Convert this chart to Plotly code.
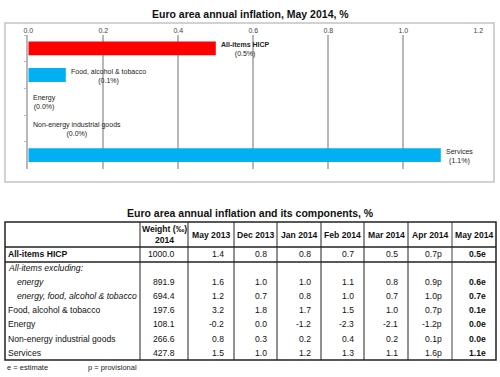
import plotly.graph_objects as go

# ---------- data ----------
bar_categories = ["All-items HICP", "Food, alcohol & tobacco", "Energy",
                  "Non-energy industrial goods", "Services"]
bar_values = [0.5, 0.1, 0.0, 0.0, 1.1]

table_header = ["", "Weight (‰)<br>2014", "May 2013", "Dec 2013", "Jan 2014",
                "Feb 2014", "Mar 2014", "Apr 2014", "May 2014"]
row_labels = ["All-items HICP", "All-items excluding:", "energy",
              "energy, food, alcohol & tobacco", "Food, alcohol & tobacco",
              "Energy", "Non-energy industrial goods", "Services"]
weights = ["1000.0", "", "891.9", "694.4", "197.6", "108.1", "266.6", "427.8"]
may13 = ["1.4", "", "1.6", "1.2", "3.2", "-0.2", "0.8", "1.5"]
dec13 = ["0.8", "", "1.0", "0.7", "1.8", "0.0", "0.3", "1.0"]
jan14 = ["0.8", "", "1.0", "0.8", "1.7", "-1.2", "0.2", "1.2"]
feb14 = ["0.7", "", "1.1", "1.0", "1.5", "-2.3", "0.4", "1.3"]
mar14 = ["0.5", "", "0.8", "0.7", "1.0", "-2.1", "0.2", "1.1"]
apr14 = ["0.7p", "", "0.9p", "1.0p", "0.7p", "-1.2p", "0.1p", "1.6p"]
may14 = ["0.5e", "", "0.6e", "0.7e", "0.1e", "0.0e", "0.0e", "1.1e"]

# ---------- styling ----------
W, H = 500, 377
FONT = "Liberation Sans, Arial, sans-serif"
bar_colors = ["#ff0000", "#00b0f0", "#00b0f0", "#00b0f0", "#00b0f0"]
row_style = ["bold", "italic", "italic_indent", "italic_indent",
             "plain", "plain", "plain", "plain"]


def px(x):
    return x / W


def py(y):
    return 1 - y / H


fig = go.Figure()

# ---------- bar chart ----------
fig.add_trace(go.Bar(
    x=bar_values, y=bar_categories, orientation="h",
    marker=dict(color=bar_colors, line=dict(width=0)),
    width=0.52, hoverinfo="skip", showlegend=False,
))

for i, (cat, val) in enumerate(zip(bar_categories, bar_values)):
    head = f"<b>{cat}</b>" if i == 0 else cat
    fig.add_annotation(x=val, y=cat, xref="x", yref="y",
                       text=f"{head}<br>({val:.1f}%)",
                       showarrow=False, xanchor="left", yanchor="middle",
                       xshift=3, yshift=-1, align="center",
                       font=dict(family=FONT, size=7, color="#222222"))

fig.update_layout(
    xaxis=dict(domain=[px(28.3), px(478.3)], range=[0, 1.2], dtick=0.2,
               tickformat=".1f", side="top", showgrid=True,
               gridcolor="#b8b8b8", gridwidth=1.5, zeroline=False,
               showline=False, ticks="", anchor="y", automargin=False,
               tickfont=dict(family=FONT, size=7, color="#444444")),
    yaxis=dict(domain=[py(168.5), py(35)], autorange="reversed",
               type="category", showticklabels=False, showgrid=False,
               ticks="outside", tickson="boundaries", ticklen=3,
               tickcolor="#b8b8b8", showline=True, linecolor="#b8b8b8",
               linewidth=1.5, zeroline=False, anchor="x", automargin=False),
)

# ---------- table (text cells + rules) ----------
col_edges = [5, 140, 188, 234, 277, 321, 364, 408, 452, 496]
t_top, t_head, t_hicp, t_bot = 222, 247, 262, 360
row_centers = [254.5] + [267.5 + 14.2 * k for k in range(7)]
TFS = 8.6

columns = [weights, may13, dec13, jan14, feb14, mar14, apr14, may14]

# header
for j, h in enumerate(table_header):
    if not h:
        continue
    xc = (col_edges[j] + col_edges[j + 1]) / 2
    fig.add_annotation(text=f"<b>{h}</b>", x=px(xc), y=py((t_top + t_head) / 2),
                       xref="paper", yref="paper", showarrow=False,
                       xanchor="center", yanchor="middle", align="center",
                       font=dict(family=FONT, size=TFS, color="#111111"))

# row labels
for i, lab in enumerate(row_labels):
    st = row_style[i]
    txt = lab
    indent = 0
    if st == "bold":
        txt = f"<b>{lab}</b>"
    elif st.startswith("italic"):
        txt = f"<i>{lab}</i>"
        if st == "italic_indent":
            indent = 9
    fig.add_annotation(text=txt, x=px(col_edges[0] + 1 + indent), y=py(row_centers[i]),
                       xref="paper", yref="paper", showarrow=False,
                       xanchor="left", yanchor="middle",
                       font=dict(family=FONT, size=TFS, color="#111111"))

# numeric cells
for j, col in enumerate(columns, start=1):
    right = col_edges[j + 1] - (11 if j == 1 else 8.5)
    for i, v in enumerate(col):
        if not v:
            continue
        txt = f"<b>{v}</b>" if j == len(columns) else v
        fig.add_annotation(text=txt, x=px(right), y=py(row_centers[i]),
                           xref="paper", yref="paper", showarrow=False,
                           xanchor="right", yanchor="middle",
                           font=dict(family=FONT, size=TFS, color="#111111"))

shapes = []
for k in range(1, len(col_edges) - 1):
    last = (k == len(col_edges) - 2)
    shapes.append(dict(type="line", xref="paper", yref="paper",
                       x0=px(col_edges[k]), x1=px(col_edges[k]),
                       y0=py(t_top), y1=py(t_bot),
                       line=dict(color="#a0a0a0" if last else "#222222",
                                 width=2 if last else 1)))
for yy in (t_head, t_hicp):
    shapes.append(dict(type="line", xref="paper", yref="paper",
                       x0=px(col_edges[0]), x1=px(col_edges[-1]),
                       y0=py(yy), y1=py(yy),
                       line=dict(color="#222222", width=1.5)))
shapes.append(dict(type="rect", xref="paper", yref="paper",
                   x0=px(col_edges[0]), x1=px(col_edges[-1]),
                   y0=py(t_bot), y1=py(t_top),
                   line=dict(color="#222222", width=1.5)))
# chart border
shapes.append(dict(type="rect", xref="paper", yref="paper",
                   x0=px(5), x1=px(494), y0=py(182), y1=py(23),
                   line=dict(color="#c4c4c4", width=1.5), layer="below"))
fig.update_layout(shapes=shapes)

# titles & notes
fig.add_annotation(text="<b>Euro area annual inflation, May 2014, %</b>",
                   x=0.5, y=py(14), xref="paper", yref="paper", showarrow=False,
                   xanchor="center", yanchor="middle",
                   font=dict(family=FONT, size=10.5, color="#111111"))
fig.add_annotation(text="<b>Euro area annual inflation and its components, %</b>",
                   x=0.5, y=py(213), xref="paper", yref="paper", showarrow=False,
                   xanchor="center", yanchor="middle",
                   font=dict(family=FONT, size=10.5, color="#111111"))
fig.add_annotation(text="e = estimate", x=px(5), y=py(367), xref="paper",
                   yref="paper", showarrow=False, xanchor="left", yanchor="middle",
                   font=dict(family=FONT, size=7.5, color="#222222"))
fig.add_annotation(text="p = provisional", x=px(86), y=py(367), xref="paper",
                   yref="paper", showarrow=False, xanchor="left", yanchor="middle",
                   font=dict(family=FONT, size=7.5, color="#222222"))

fig.update_layout(width=W, height=H, margin=dict(l=0, r=0, t=0, b=0),
                  paper_bgcolor="white", plot_bgcolor="white",
                  font=dict(family=FONT), showlegend=False)

fig.write_html("out.html", config={"displayModeBar": False},
               post_script="document.body.style.margin='0';document.body.style.overflow='hidden';")
